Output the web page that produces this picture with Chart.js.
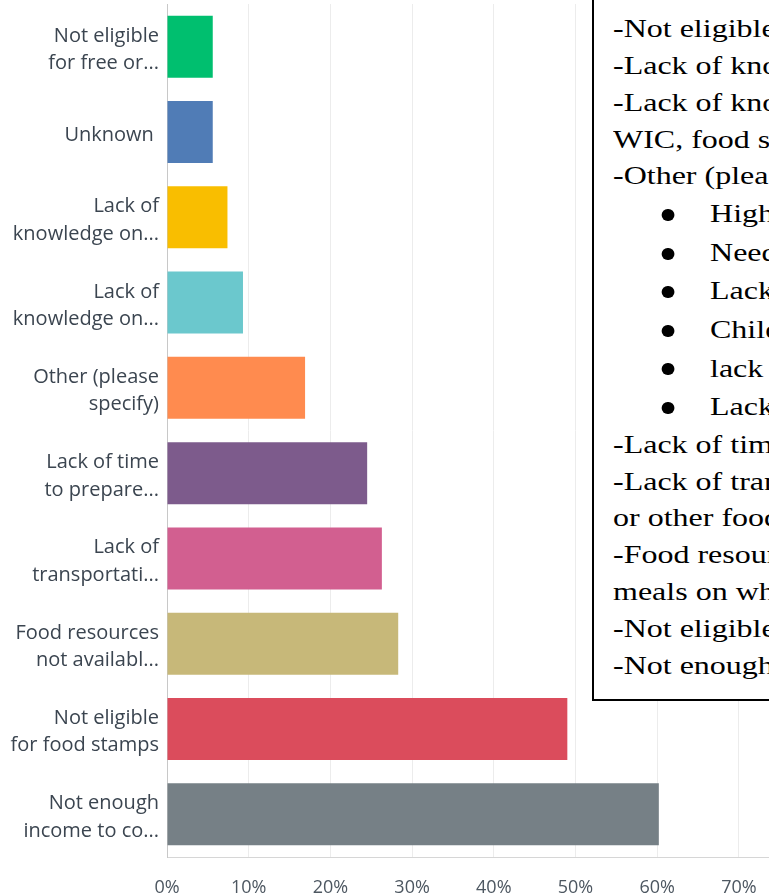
<!DOCTYPE html>
<html>
<head>
<meta charset="utf-8">
<script src="https://cdn.jsdelivr.net/npm/chart.js@4.4.1/dist/chart.umd.min.js"></script>
<style>
  html, body { margin: 0; padding: 0; background: #fff; }
  #wrap { position: absolute; left: 0; top: 0; width: 769px; height: 894px; overflow: hidden; background: #fff; }
  #c { position: absolute; left: 0; top: 0; }
  #box { position: absolute; left: 592px; top: -10px; width: 560px; height: 711px; box-sizing: border-box;
         border: 2px solid #000; background: #fff; }
  #txt { position: absolute; left: 19px; top: 19.3px; transform: scaleX(1.28); transform-origin: 0 0;
         font-family: 'Liberation Serif', 'Times New Roman', serif; font-size: 25px; color: #000; white-space: nowrap; }
  #txt .n { line-height: 36.8px; height: 36.8px; }
  #txt .b { position: relative; line-height: 38.6px; height: 38.6px; padding-left: 75.8px; }
  #txt .b::before { content: ""; position: absolute; left: 38.3px; top: 13.7px; width: 9.4px; height: 12px;
         border-radius: 50%; background: #000; }
</style>
</head>
<body>
<div id="wrap">
  <canvas id="c" width="1004" height="894"></canvas>
  <div id="box">
    <div id="txt">
      <div class="n">-Not eligible for free or reduced lunch</div>
      <div class="n">-Lack of knowledge on how to cook healthy meals</div>
      <div class="n">-Lack of knowledge on available resources (e.g.,</div>
      <div class="n">WIC, food stamps, food pantries)</div>
      <div class="n">-Other (please specify)</div>
      <div class="b">High cost of healthy food</div>
      <div class="b">Need more food assistance</div>
      <div class="b">Lack of healthy food options</div>
      <div class="b">Children are picky eaters</div>
      <div class="b">lack of cooking skills</div>
      <div class="b">Lack of storage space</div>
      <div class="n">-Lack of time to prepare meals</div>
      <div class="n">-Lack of transportation to grocery stores, food banks,</div>
      <div class="n">or other food resources</div>
      <div class="n">-Food resources not available in my area (e.g.,</div>
      <div class="n">meals on wheels)</div>
      <div class="n">-Not eligible for food stamps</div>
      <div class="n">-Not enough income to cover food costs</div>
    </div>
  </div>
</div>
<script>
const categories = [
  ['Not eligible', 'for free or...'],
  ['Unknown '],
  ['Lack of', 'knowledge on...'],
  ['Lack of', 'knowledge on...'],
  ['Other (please', 'specify)'],
  ['Lack of time', 'to prepare...'],
  ['Lack of', 'transportati...'],
  ['Food resources', 'not availabl...'],
  ['Not eligible', 'for food stamps'],
  ['Not enough', 'income to co...']
];
const values = [5.6, 5.6, 7.4, 9.3, 16.9, 24.5, 26.3, 28.3, 49.0, 60.2];
const barColors = ['#00bf6f', '#507cb6', '#f9be00', '#6bc8cd', '#ff8b4f',
                   '#7d5b8c', '#d25f90', '#c7b879', '#db4c5c', '#768086'];
const xTickValues = [0, 10, 20, 30, 40, 50, 60, 70, 80, 90, 100];

function shiftLabels(s) {
  if (s._shifted) return;
  s._shifted = true;
  const orig = s.drawLabels;
  s.drawLabels = function (area) {
    this.ctx.save();
    this.ctx.translate(0, 3);
    orig.call(this, area);
    this.ctx.restore();
  };
}

new Chart(document.getElementById('c'), {
  type: 'bar',
  data: {
    labels: categories,
    datasets: [{
      data: values,
      backgroundColor: barColors,
      borderWidth: 0,
      barPercentage: 0.727,
      categoryPercentage: 1.0
    }]
  },
  options: {
    indexAxis: 'y',
    responsive: false,
    animation: false,
    layout: { padding: { top: 4, right: 20, left: 0, bottom: 0 } },
    plugins: { legend: { display: false }, tooltip: { enabled: false } },
    scales: {
      x: {
        min: 0, max: 100,
        afterBuildTicks: (s) => { s.ticks = xTickValues.map(v => ({ value: v })); },
        afterFit: (s) => { s.height = 37; s.paddingLeft = 0; s.paddingRight = 0; },
        ticks: {
          callback: (v) => v + '%',
          color: '#4d5761',
          font: { family: 'Open Sans', size: 18 },
          padding: 20,
          maxRotation: 0
        },
        grid: { color: '#ececec', drawTicks: false, lineWidth: 1 },
        border: { color: '#d6d6d6', width: 1 }
      },
      y: {
        afterFit: (s) => { s.width = 167; s.paddingTop = 0; s.paddingBottom = 0; shiftLabels(s); },
        ticks: {
          color: '#3b4550',
          font: { family: 'Open Sans', size: 20, lineHeight: 1.37 },
          padding: 8
        },
        grid: { display: false, drawTicks: false },
        border: { color: '#c8c8c8', width: 1 }
      }
    }
  }
});
</script>
</body>
</html>
